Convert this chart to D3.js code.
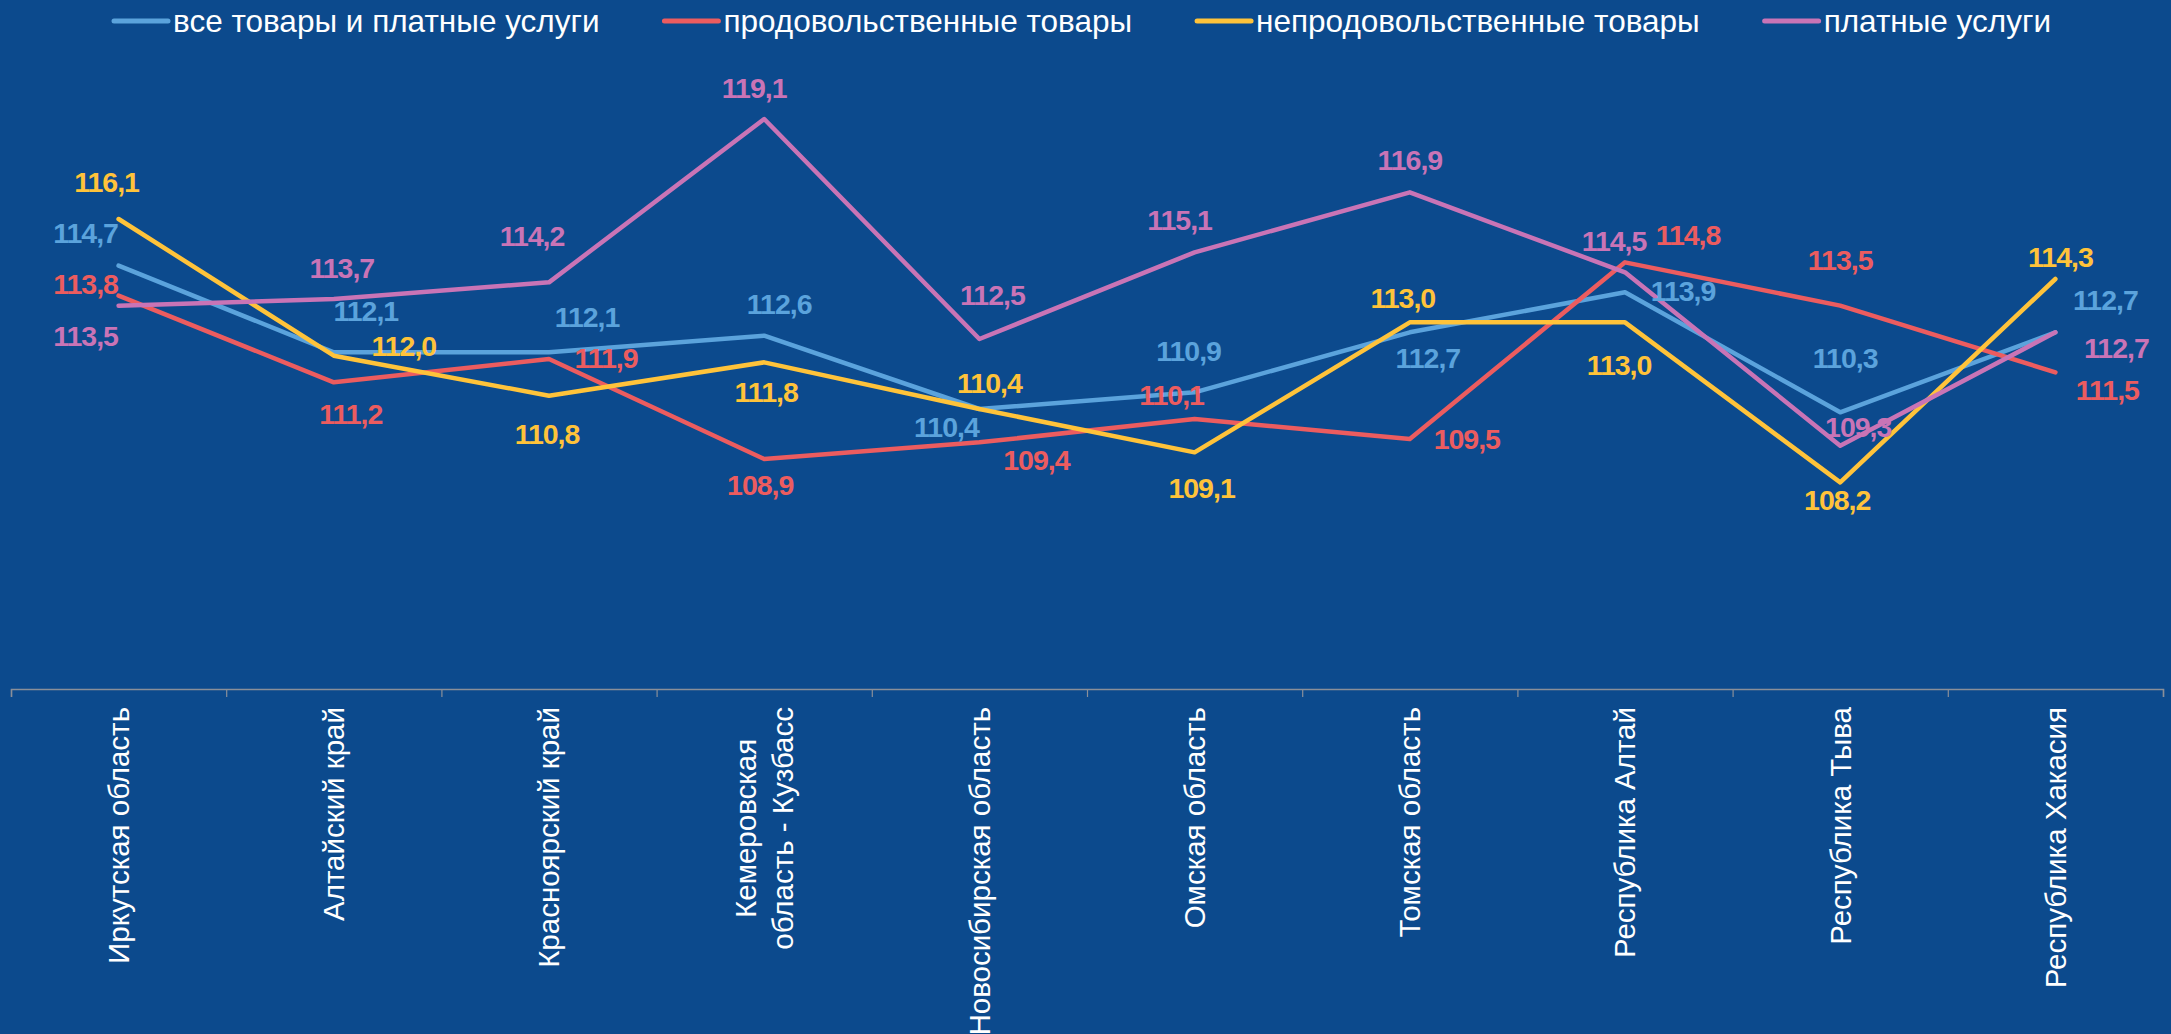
<!DOCTYPE html>
<html>
<head>
<meta charset="utf-8">
<script src="https://cdn.jsdelivr.net/npm/d3@7"></script>
<style>
  body { margin: 0; background: #0c4a8d; }
  svg { display: block; }
</style>
</head>
<body>
<div id="chart"></div>
<script>
// categories (regions), "\n" marks the manual line break in the axis label
const regions = [
  'Иркутская область',
  'Алтайский край',
  'Красноярский край',
  'Кемеровская\nобласть - Кузбасс',
  'Новосибирская область',
  'Омская область',
  'Томская область',
  'Республика Алтай',
  'Республика Тыва',
  'Республика Хакасия'
];

const seriesNames = [
  'все товары и платные услуги',
  'продовольственные товары',
  'непродовольственные товары',
  'платные услуги'
];

const allGoods   = [114.7, 112.1, 112.1, 112.6, 110.4, 110.9, 112.7, 113.9, 110.3, 112.7];
const foodGoods  = [113.8, 111.2, 111.9, 108.9, 109.4, 110.1, 109.5, 114.8, 113.5, 111.5];
const nonFood    = [116.1, 112.0, 110.8, 111.8, 110.4, 109.1, 113.0, 113.0, 108.2, 114.3];
const services   = [113.5, 113.7, 114.2, 119.1, 112.5, 115.1, 116.9, 114.5, 109.3, 112.7];

const yDomain = [102, 120];

// label nudges (px) relative to each point, same order as the series
const labelShift = [
  [[-33,-33],[32,-41],[38,-35],[15,-32],[-33,18],[-6,-41],[18,26],[58,-1],[5,-54],[50,-32]],
  [[-33,-12],[17,32],[57,-1],[-4,26],[57,18],[-23,-24],[57,0],[63,-27],[0,-46],[52,18]],
  [[-12,-37],[70,-10],[-2,38],[2,30],[10,-26],[7,36],[-7,-24],[-6,43],[-3,18],[5,-22]],
  [[-33,30],[8,-31],[-17,-46],[-10,-31],[13,-44],[-15,-32],[0,-32],[-11,-31],[18,-19],[61,16]]
];

const colors = ['#5ba3dc', '#ec5c5f', '#ffc33a', '#c974b6'];

const width = 2171;
const height = 1034;
const plot = { left: 11, right: 2163, top: 89, bottom: 689 };

const series = [allGoods, foodGoods, nonFood, services].map((vals, i) => ({
  name: seriesNames[i],
  color: colors[i],
  values: vals.map((v, j) => ({ cat: regions[j], value: v, shift: labelShift[i][j] }))
}));

const svg = d3.select('#chart')
  .append('svg')
  .attr('width', width)
  .attr('height', height);

svg.append('rect')
  .attr('width', width)
  .attr('height', height)
  .attr('fill', '#0c4a8d');

const x = d3.scaleBand()
  .domain(regions)
  .range([plot.left, plot.right]);

const y = d3.scaleLinear()
  .domain(yDomain)
  .range([plot.bottom, plot.top]);

const cx = d => x(d.cat) + x.bandwidth() / 2;

// axis: ticks sit on the band boundaries, so use an index scale
const xEdges = d3.scaleLinear()
  .domain([0, regions.length])
  .range([plot.left, plot.right]);

const axis = svg.append('g')
  .attr('transform', `translate(0,${plot.bottom})`)
  .call(d3.axisBottom(xEdges)
    .ticks(regions.length)
    .tickSize(8)
    .tickSizeOuter(8)
    .tickFormat(''));
axis.select('.domain').attr('stroke', '#8a8f99').attr('stroke-width', 1.5);
axis.selectAll('.tick line').attr('stroke', '#8a8f99').attr('stroke-width', 1.2);

// category labels, rotated
const catFont = 29.5;
const lineGap = 37;
const catG = svg.append('g')
  .style('font-family', '"Liberation Sans", Arial, sans-serif')
  .style('font-size', catFont + 'px')
  .attr('fill', '#ffffff');

regions.forEach(r => {
  const lines = r.split('\n');
  const px = x(r) + x.bandwidth() / 2;
  const g = catG.append('g');
  const texts = lines.map(ln => g.append('text')
    .attr('dy', '0.35em')
    .text(ln));
  const maxLen = d3.max(texts, t => t.node().getComputedTextLength());
  texts.forEach((t, k) => {
    const off = (k - (lines.length - 1) / 2) * lineGap;
    const ty = 707 + maxLen / 2;
    t.attr('text-anchor', 'middle')
      .attr('transform', `translate(${px + off},${ty}) rotate(-90)`);
  });
});

// lines
const line = d3.line()
  .x(cx)
  .y(d => y(d.value));

svg.append('g')
  .selectAll('path')
  .data(series)
  .join('path')
  .attr('d', d => line(d.values))
  .attr('fill', 'none')
  .attr('stroke', d => d.color)
  .attr('stroke-width', 4.5)
  .attr('stroke-linecap', 'round')
  .attr('stroke-linejoin', 'round');

// data labels
const fmt = v => d3.format('.1f')(v).replace('.', ',');

const labG = svg.append('g')
  .style('font-family', '"Liberation Sans", Arial, sans-serif')
  .style('font-size', '28.5px')
  .style('font-weight', 'bold')
  .style('letter-spacing', '-1px');

series.forEach(s => {
  labG.append('g')
    .selectAll('text')
    .data(s.values)
    .join('text')
    .attr('x', d => cx(d) + d.shift[0])
    .attr('y', d => y(d.value) + d.shift[1])
    .attr('dy', '0.35em')
    .attr('text-anchor', 'middle')
    .attr('fill', s.color)
    .text(d => fmt(d.value));
});

// legend
const legend = svg.append('g')
  .style('font-family', '"Liberation Sans", Arial, sans-serif')
  .style('font-size', '31.5px')
  .attr('fill', '#ffffff');

const items = legend.selectAll('g')
  .data(series)
  .join('g');

items.append('line')
  .attr('x1', 0).attr('x2', 54)
  .attr('y1', 0).attr('y2', 0)
  .attr('stroke', d => d.color)
  .attr('stroke-width', 5)
  .attr('stroke-linecap', 'round');

items.append('text')
  .attr('x', 59)
  .attr('dy', '0.35em')
  .text(d => d.name);

const widths = [];
items.each(function () {
  widths.push(59 + d3.select(this).select('text').node().getComputedTextLength());
});
const legStart = 114;
const legEnd = 2051;
const itemGap = (legEnd - legStart - d3.sum(widths)) / (widths.length - 1);
let cursor = legStart;
items.attr('transform', (d, i) => {
  const t = `translate(${cursor},21)`;
  cursor += widths[i] + itemGap;
  return t;
});
</script>
</body>
</html>
